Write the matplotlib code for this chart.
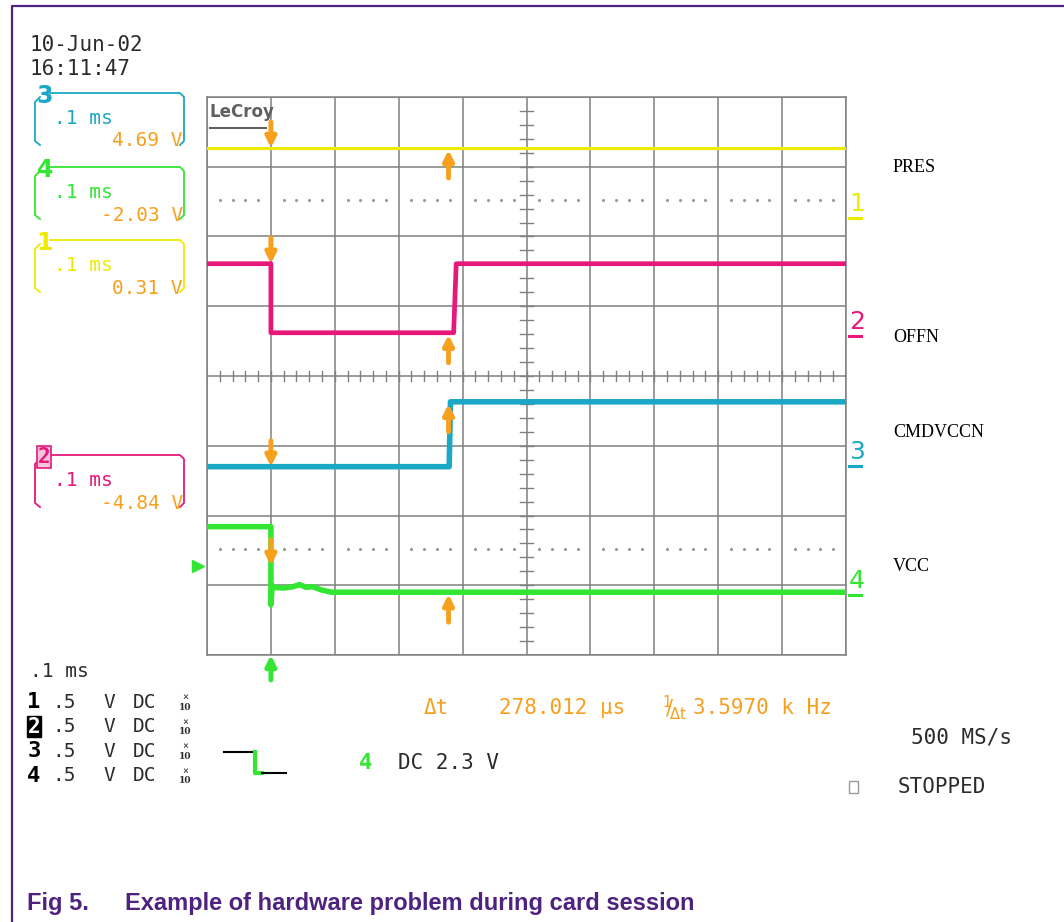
import matplotlib.pyplot as plt
import numpy as np

W, H = 1064, 922

# ---- traces, in screen divisions (x: 0.1 ms/div, y: divisions from bottom) ----
pres_t = [0.0, 10.0]
pres_v = [7.27, 7.27]
offn_t = [0.0, 1.0, 1.0, 3.86, 3.90, 10.0]
offn_v = [5.61, 5.61, 4.62, 4.62, 5.61, 5.61]
cmdvccn_t = [0.0, 3.79, 3.81, 10.0]
cmdvccn_v = [2.70, 2.70, 3.63, 3.63]
vcc_t = [0.0, 1.0, 1.0, 1.02, 1.05, 1.2, 1.35, 1.45, 1.55, 1.65, 1.8, 1.95, 10.0]
vcc_v = [1.84, 1.84, 0.72, 1.00, 0.97, 0.96, 0.98, 1.01, 0.97, 0.98, 0.93, 0.90, 0.90]

# cursors and trigger
cursor_t = [1.0, 3.78]
cursor1_v = [7.27, 5.61, 2.70, 1.28]
cursor2_v = [7.27, 4.62, 3.63, 0.90]
trig_t = 1.0
trig_level = 1.28
ground_v = [6.27, 4.57, 2.71, 0.86]
marker_rows = [6.53, 1.52]

ch_ids = ['1', '2', '3', '4']
ch_names = ['PRES', 'OFFN', 'CMDVCCN', 'VCC']
box_ids = ['3', '4', '1', '2']
box_offsets = ['4.69 V', '-2.03 V', '0.31 V', '-4.84 V']
scale_rows = ['.5', '.5', '.5', '.5']

# ---- colours ----
YEL = '#eeea00'
MAG = '#e6187a'
CYA = '#1aa8c6'
GRN = '#33e633'
ORG = '#f7a01e'
GRID = '#808080'
INK = '#2b2b2b'
PURPLE = '#4e2380'
ch_col = {'1': YEL, '2': MAG, '3': CYA, '4': GRN}
MONO = 'DejaVu Sans Mono'

fig = plt.figure(figsize=(W / 100, H / 100), dpi=100)
fig.patch.set_facecolor('white')

# overlay in pixel coordinates for the scope annotations
ov = fig.add_axes([0, 0, 1, 1])
ov.set_xlim(0, W)
ov.set_ylim(H, 0)
ov.axis('off')

# page border
ov.plot([12, 12, W], [H, 6, 6], color=PURPLE, lw=1.6, solid_capstyle='butt')

# ---- screen ----
ax = fig.add_axes([207 / W, 1 - 655 / H, (846 - 207) / W, (655 - 97) / H])
ax.set_xlim(0, 10)
ax.set_ylim(0, 8)
ax.set_xticks(range(11))
ax.set_yticks(range(9))
ax.tick_params(length=0, labelbottom=False, labelleft=False)
ax.grid(True, color=GRID, lw=1.1)
for s in ax.spines.values():
    s.set_color(GRID)
    s.set_linewidth(1.1)

# centre graticule minor ticks
for x in np.arange(0.2, 10, 0.2):
    ax.plot([x, x], [4 - 0.07, 4 + 0.07], color=GRID, lw=1.0)
for y in np.arange(0.2, 8, 0.2):
    ax.plot([5 - 0.1, 5 + 0.1], [y, y], color=GRID, lw=1.0)

# dotted marker rows
for yr in marker_rows:
    xs = [d + f for d in range(10) for f in (0.2, 0.4, 0.6, 0.8)]
    ax.plot(xs, [yr] * len(xs), ls='none', marker='.', ms=2.5, color='#9a9a9a')

ax.plot(pres_t, pres_v, color=YEL, lw=2.2, zorder=3)
ax.plot(offn_t, offn_v, color=MAG, lw=3.4, zorder=3)
ax.plot(cmdvccn_t, cmdvccn_v, color=CYA, lw=4.0, zorder=3)
ax.plot(vcc_t, vcc_v, color=GRN, lw=4.0, zorder=3)

# cursor arrows
px_y = 8 / (655 - 97)
arrow_kw = dict(arrowstyle='-|>', color=ORG, lw=3.5, mutation_scale=15, shrinkA=0, shrinkB=0)
for v in cursor1_v:
    ax.annotate('', xy=(cursor_t[0], v), xytext=(cursor_t[0], v + 26 * px_y),
                arrowprops=arrow_kw, zorder=5)
for v in cursor2_v:
    ax.annotate('', xy=(cursor_t[1], v - 2 * px_y), xytext=(cursor_t[1], v - 30 * px_y),
                arrowprops=arrow_kw, zorder=5)

# trigger position and level markers
ax.annotate('', xy=(trig_t, 0), xytext=(trig_t, -25 * px_y), annotation_clip=False,
            arrowprops=dict(arrow_kw, color=GRN))
ax.plot([-0.14], [trig_level], marker='>', ms=8, color=GRN, clip_on=False)

# ground markers on the right edge
for cid, g in zip(ch_ids, ground_v):
    ax.text(10.05, g + 2 * px_y, cid, color=ch_col[cid], fontsize=18, family='DejaVu Sans',
            ha='left', va='bottom', clip_on=False)
    ax.plot([10.04, 10.24], [g, g], color=ch_col[cid], lw=2.2, clip_on=False)

# LeCroy logo
ax.text(0.04, 7.78, 'LeCroy', family='DejaVu Sans', fontweight='bold', fontsize=12,
        color='#606060', ha='left', va='center')
ax.plot([0.04, 0.92], [7.55, 7.55], color='#606060', lw=1.5)

# ---- right-side names ----
for name, y in zip(ch_names, [168, 337, 432, 566]):
    ov.text(893, y, name, family='Liberation Serif', fontsize=13, color='black',
            ha='left', va='center')

# ---- date / time ----
ov.text(30, 45, '10-Jun-02', family=MONO, fontsize=15, color=INK, va='center')
ov.text(30, 69, '16:11:47', family=MONO, fontsize=15, color=INK, va='center')

# ---- channel info brackets ----
for cid, off, top in zip(box_ids, box_offsets, [93, 167, 240, 455]):
    c = ch_col[cid]
    bot = top + 52
    ov.plot([40, 35, 35, 40], [top + 4, top + 9, bot - 4, bot], color=c, lw=1.3)
    ov.plot([50, 180, 184, 184, 180], [top, top, top + 4, bot - 4, bot], color=c, lw=1.3)
    if cid == '2':
        ov.text(44, top + 2, cid, color=c, fontsize=15, family=MONO, fontweight='bold',
                ha='center', va='center',
                bbox=dict(boxstyle='square,pad=0.05', fc='#f7c6dc', ec=c, lw=1.2))
    else:
        ov.text(45, top + 3, cid, color=c, fontsize=17, family='DejaVu Sans', fontweight='bold',
                ha='center', va='center')
    ov.text(54, top + 25, '.1 ms', color=c, fontsize=14, family=MONO, va='center')
    ov.text(183, top + 48, off, color=ORG, fontsize=14, family=MONO, va='center', ha='right')

# ---- bottom status area ----
ov.text(30, 671, '.1 ms', family=MONO, fontsize=14, color=INK, va='center')
for i, (cid, sc) in enumerate(zip(ch_ids, scale_rows)):
    y = 702 + i * 24.5
    if cid == '2':
        ov.text(34, y, cid, family=MONO, fontsize=15, fontweight='bold', color='white',
                ha='center', va='center',
                bbox=dict(boxstyle='square,pad=0.02', fc='black', ec='black'))
    else:
        ov.text(34, y, cid, family=MONO, fontsize=16, fontweight='bold', color='black',
                ha='center', va='center')
    ov.text(52, y, sc, family=MONO, fontsize=14, color=INK, va='center')
    ov.text(103, y, 'V', family=MONO, fontsize=14, color=INK, va='center')
    ov.text(133, y, 'DC', family=MONO, fontsize=14, color=INK, va='center')
    ov.text(185, y - 5, '×', family=MONO, fontsize=7, color=INK, va='center', ha='center')
    ov.text(185, y + 5, '10', family='DejaVu Serif', fontsize=6.5, fontweight='bold',
            color=INK, va='center', ha='center')

# trigger slope icon
ov.plot([224, 254], [752, 752], color='black', lw=1.5)
ov.plot([255, 255, 262], [752, 773, 773], color=GRN, lw=3)
ov.plot([262, 286], [773, 773], color='black', lw=1.5)
ov.text(366, 763, '4', family=MONO, fontsize=16, fontweight='bold', color=GRN,
        ha='center', va='center')
ov.text(398, 763, 'DC 2.3 V', family=MONO, fontsize=15, color=INK, va='center')

# cursor readout
ov.text(424, 708, 'Δt', family=MONO, fontsize=15, color=ORG, va='center')
ov.text(499, 708, '278.012 µs', family=MONO, fontsize=15, color=ORG, va='center')
ov.text(662, 708, r'$^{1}\!\!/\!_{\mathrm{\Delta t}}$', fontsize=15, color=ORG, va='center')
ov.text(693, 708, '3.5970 k Hz', family=MONO, fontsize=15, color=ORG, va='center')

ov.text(911, 737, '500 MS/s', family=MONO, fontsize=15, color=INK, va='center')
ov.add_patch(plt.Rectangle((849, 781), 9, 12, fill=False, ec='#999999', lw=1))
ov.text(898, 787, 'STOPPED', family=MONO, fontsize=15, color=INK, va='center')

# ---- caption ----
ov.text(27, 903, 'Fig 5.', family='Liberation Sans', fontweight='bold', fontsize=17,
        color=PURPLE, va='center')
ov.text(125, 903, 'Example of hardware problem during card session',
        family='Liberation Sans', fontweight='bold', fontsize=17, color=PURPLE, va='center')

fig.savefig('out.png', dpi=100)
